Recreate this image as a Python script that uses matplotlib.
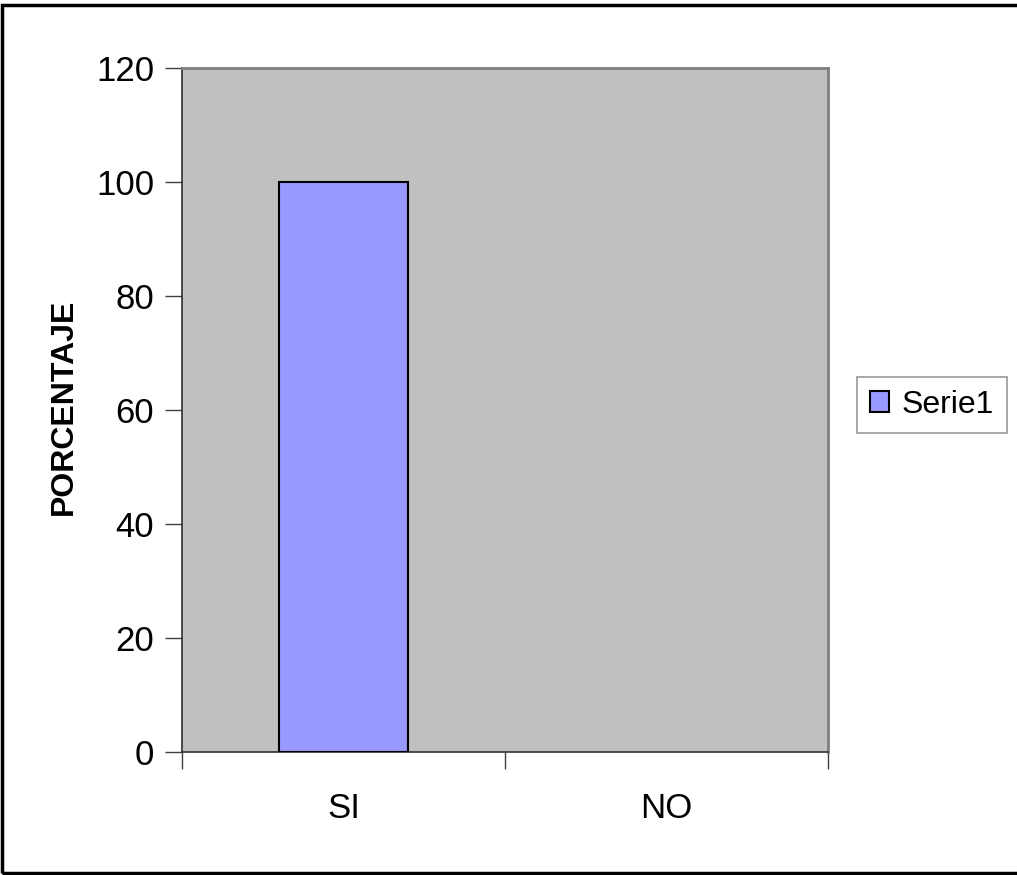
import matplotlib
matplotlib.use("Agg")
import matplotlib.pyplot as plt
from matplotlib.patches import Rectangle

categories = ["SI", "NO"]
values = [100, 0]
series_name = "Serie1"
yticks = [0, 20, 40, 60, 80, 100, 120]

plt.rcParams['font.family'] = ['Liberation Sans', 'DejaVu Sans']

W, H = 1017, 875
fig = plt.figure(figsize=(W/100, H/100), dpi=100)
fig.patch.set_facecolor('white')

# outer frame
fig.add_artist(Rectangle((2/W, 2/H), 1.2, 1 - 7/H, transform=fig.transFigure,
                         fill=False, edgecolor='black', linewidth=2.5))

ax = fig.add_axes([182/W, 1 - 752/H, (828-182)/W, (752-68)/H])
ax.set_facecolor('#C0C0C0')

x = list(range(len(categories)))
bars = ax.bar(x, values, width=0.4, color='#9999FF', edgecolor='black',
              linewidth=1.5, label=series_name, zorder=3)
for b, v in zip(bars, values):
    if v == 0:
        b.set_linewidth(0)

ax.set_xlim(-0.5, len(categories) - 0.5)
ax.set_ylim(0, 120)
ax.set_yticks(yticks)
ax.set_yticklabels([str(v) for v in yticks], fontsize=25)
ax.set_xticks([-0.5, 0.5, 1.5])
ax.set_xticklabels([])
ax.set_xticks(x, minor=True)
ax.set_xticklabels(categories, minor=True, fontsize=25)
ax.tick_params(axis='x', which='minor', length=0, pad=29)
ax.tick_params(axis='x', which='major', length=12, width=1, color='#404040', direction='out')
ax.tick_params(axis='y', length=12, width=1, color='#404040', direction='out', pad=8)

for s in ['left', 'bottom']:
    ax.spines[s].set_color('#303030')
    ax.spines[s].set_linewidth(1.2)
for s in ['top', 'right']:
    ax.spines[s].set_color('#808080')
    ax.spines[s].set_linewidth(2)

ax.set_ylabel('PORCENTAJE', fontsize=23, fontweight='bold')
ax.yaxis.set_label_coords(79/W, 1 - 407/H, transform=fig.transFigure)

leg = ax.legend(loc='upper left', bbox_to_anchor=(857/W, 1 - 377/H),
                bbox_transform=fig.transFigure, fontsize=23, frameon=True,
                fancybox=False, edgecolor='#808080', handlelength=0.6,
                handleheight=0.6, handletextpad=0.4, borderpad=0.4,
                borderaxespad=0)
leg.get_frame().set_linewidth(1.2)

fig.savefig('out.png', dpi=100)
